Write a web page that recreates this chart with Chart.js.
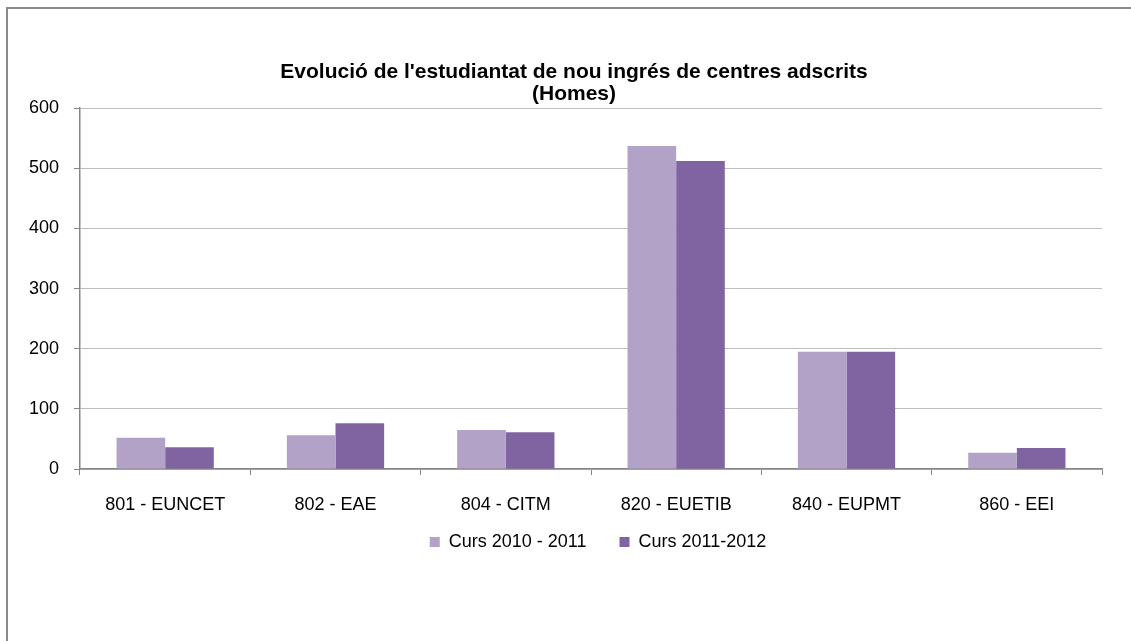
<!DOCTYPE html>
<html>
<head>
<meta charset="utf-8">
<script src="https://cdn.jsdelivr.net/npm/chart.js@4/dist/chart.umd.min.js"></script>
<style>
  body { margin: 0; background: #fff; }
  #frame { position: absolute; left: 6px; top: 7px; width: 1200px; height: 700px;
           border-left: 2px solid #8a8a8a; border-top: 2px solid #8a8a8a; }
  #canvas { position: absolute; left: 0; top: 0; }
</style>
</head>
<body>
<div id="frame"></div>
<canvas id="canvas" width="1131" height="641"></canvas>
<script>
let categories = ['801 - EUNCET', '802 - EAE', '804 - CITM', '820 - EUETIB', '840 - EUPMT', '860 - EEI']
let curs2010 = [52, 56, 65, 537, 195, 27]
let curs2011 = [36, 76, 61, 512, 195, 35]
let seriesNames = ['Curs 2010 - 2011', 'Curs 2011-2012']
let titleLines = ["Evolució de l'estudiantat de nou ingrés de centres adscrits", '(Homes)']

const font = "Arial, 'Liberation Sans', sans-serif"

// move title and legend to where excel centres them
const shiftBoxes = {
  id: 'shiftBoxes',
  afterLayout(chart) {
    let t = chart.titleBlock
    let dx = 574 - (t.left + t.right) / 2
    t.left += dx; t.right += dx
    let lg = chart.legend
    let dl = 598 - (lg.left + lg.right) / 2
    lg.left += dl; lg.right += dl
  }
}

const ctx = document.getElementById('canvas')
const myChart = new Chart(ctx, {
  type: 'bar',
  data: {
    labels: categories,
    datasets: [{
      label: seriesNames[0],
      data: curs2010,
      backgroundColor: '#B3A2C7',
      borderWidth: 0,
      categoryPercentage: 0.571,
      barPercentage: 1
    }, {
      label: seriesNames[1],
      data: curs2011,
      backgroundColor: '#8064A2',
      borderWidth: 0,
      categoryPercentage: 0.571,
      barPercentage: 1
    }]
  },
  plugins: [shiftBoxes],
  options: {
    responsive: false,
    animation: false,
    layout: { padding: { left: 0, right: 29, top: 0, bottom: 80 } },
    plugins: {
      tooltip: { enabled: false },
      title: {
        display: true,
        text: titleLines,
        color: '#000',
        font: { family: font, size: 21, weight: 'bold', lineHeight: 1.05 },
        padding: { top: 61, bottom: 3 }
      },
      legend: {
        position: 'bottom',
        labels: {
          color: '#000',
          font: { family: font, size: 18 },
          boxWidth: 10,
          boxHeight: 10,
          padding: 18,
          // a little extra room between the two entries, like excel
          generateLabels: chart => Chart.defaults.plugins.legend.labels.generateLabels(chart)
            .map((it, i) => { if (i === 0) it.text = it.text + '   '; return it })
        }
      }
    },
    scales: {
      x: {
        afterFit: s => { s.height = 46 },
        grid: { drawOnChartArea: false, tickLength: 6, color: '#868686' },
        border: { color: '#868686', width: 1.5 },
        ticks: { color: '#000', font: { family: font, size: 18 }, padding: 19, maxRotation: 0 }
      },
      y: {
        min: 0,
        max: 600,
        afterFit: s => { s.width = 80 },
        grid: { color: '#BDBDBD', tickLength: 6, tickColor: '#868686' },
        border: { color: '#868686', width: 1.5 },
        ticks: { stepSize: 100, color: '#000', font: { family: font, size: 18 }, padding: 15 }
      }
    }
  }
})
</script>
</body>
</html>
